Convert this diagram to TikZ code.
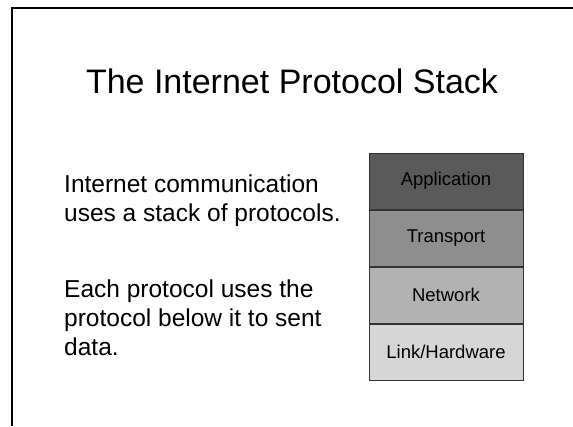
\documentclass[tikz,border=0pt]{standalone}
\usepackage{fontspec}
\setmainfont{Liberation Sans}
\usetikzlibrary{positioning}
\definecolor{appgray}{HTML}{5A5A5A}
\definecolor{transgray}{HTML}{8E8E8E}
\definecolor{netgray}{HTML}{B2B2B2}
\definecolor{linkgray}{HTML}{D6D6D6}
\tikzset{
  layer/.style={draw=black!80, line width=0.8pt, minimum width=154pt,
    minimum height=56.25pt, inner sep=0pt, font=\fontsize{18.5}{22}\selectfont},
  para/.style={anchor=base west, align=left, inner sep=0pt,
    font=\fontsize{24.5}{28.7}\selectfont},
}
\begin{document}
\begin{tikzpicture}[x=1pt,y=-1pt]
  \useasboundingbox (0,0) rectangle (573,426);
  \fill[white] (0,0) rectangle (573,426);
  % slide frame
  \draw[line width=2pt] (12,426) -- (12,8) -- (573,8);
  \node (title) [anchor=base, font=\fontsize{34}{40}\selectfont] at (292,93)
    {The Internet Protocol Stack};
  \node (intro) [para] at (64,221.5)
    {Internet communication\\uses a stack of protocols.};
  \node (each) [para] at (64,355)
    {Each protocol uses the\\protocol below it to sent\\data.};
  % the stack
  \node (app) [layer, fill=appgray] at (446,181.1) {Application};
  \node (trans) [layer, fill=transgray, below=0pt of app] {Transport};
  \node (net) [layer, fill=netgray, below=0pt of trans] {Network};
  \node (link) [layer, fill=linkgray, below=0pt of net] {Link/Hardware};
\end{tikzpicture}
\end{document}
